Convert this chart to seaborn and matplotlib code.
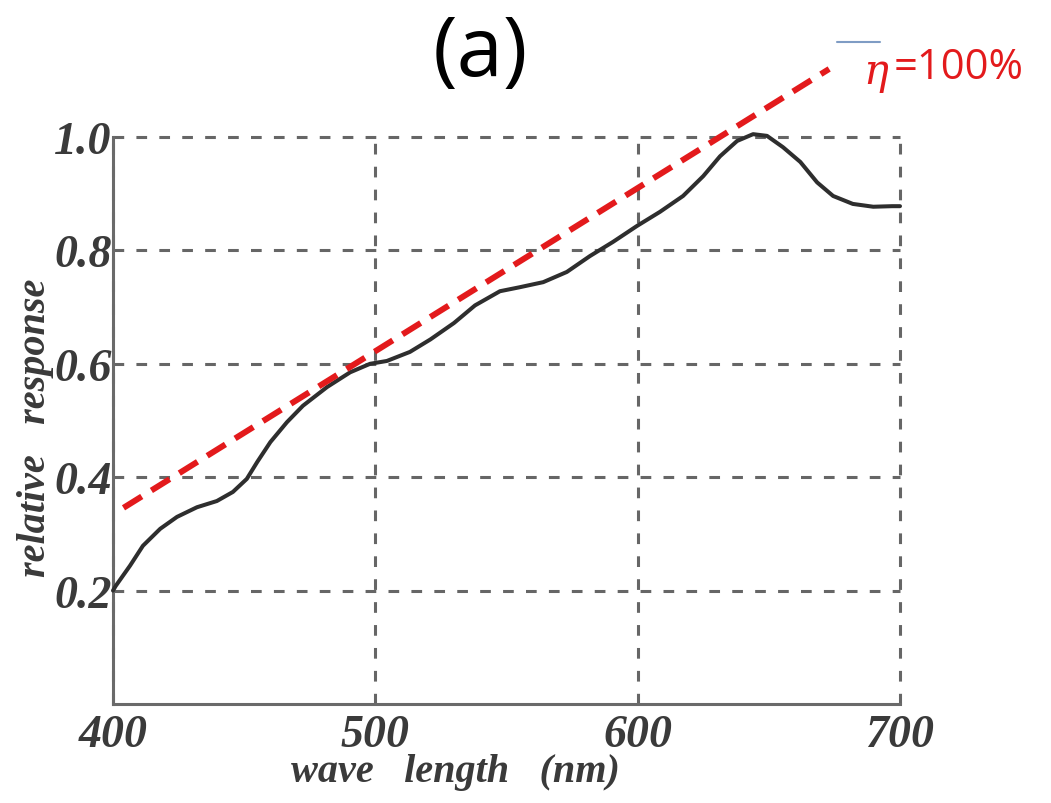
import numpy as np
import pandas as pd
import seaborn as sns
import matplotlib.pyplot as plt
from matplotlib.lines import Line2D

# ---- data ----
wavelength = [400, 401, 406.5, 411.4, 418, 424.4, 432, 439.6, 445.7, 451, 455, 460,
              466.3, 472.4, 481.6, 490.4, 498, 504.4, 513.2, 521, 530, 538, 547.5,
              555, 564, 573, 581.8, 590.6, 599.7, 608.5, 617.3, 625, 631.4, 637.9,
              644, 649.3, 655.4, 662, 668.4, 674.5, 682, 689.8, 697, 700]
response = [0.200, 0.208, 0.244, 0.279, 0.309, 0.330, 0.347, 0.358, 0.374, 0.397,
            0.427, 0.462, 0.497, 0.526, 0.559, 0.585, 0.600, 0.605, 0.621, 0.643,
            0.672, 0.703, 0.728, 0.735, 0.744, 0.762, 0.790, 0.815, 0.843, 0.868,
            0.896, 0.931, 0.966, 0.993, 1.005, 1.002, 0.982, 0.956, 0.920, 0.896,
            0.882, 0.877, 0.878, 0.878]

eta_wl = [404, 673]          # red reference line (eta = 100 %)
eta_resp = [0.346, 1.12]

x_ticks = [400, 500, 600, 700]
x_tick_labels = ["400", "500", "600", "700"]
y_ticks = [0.2, 0.4, 0.6, 0.8, 1.0]
y_tick_labels = ["0.2", "0.4", "0.6", "0.8", "1.0"]

title_text = "(a)"
x_label = "wave   length   (nm)"
y_label = "relative   response"
eta_symbol = "\u03b7"
eta_value = "=100%"

# ---- style ----
sns.set_theme(style="white")
W, H = 1051, 804
fig = plt.figure(figsize=(W / 100, H / 100), dpi=100)
ax = fig.add_axes([113 / W, 1 - 705 / H, (900 - 113) / W, (705 - 138) / H])

df = pd.DataFrame({"wavelength": wavelength, "response": response})
sns.lineplot(data=df, x="wavelength", y="response", ax=ax, color="#2e2e2e",
             lw=2.9, sort=False, zorder=4)
ax.lines[-1].set_clip_on(False)
ax.lines[-1].set_solid_joinstyle("round")

sns.lineplot(x=eta_wl, y=eta_resp, ax=ax, color="#e31a1c", lw=4.3, zorder=5)
red = ax.lines[-1]
red.set_dashes((3.6, 1.9))
red.set_clip_on(False)
red.set_dash_capstyle("butt")

ax.set_xlim(400, 700)
ax.set_ylim(0, 1.0)
ax.set_xticks(x_ticks)
ax.set_xticklabels(x_tick_labels)
ax.set_yticks(y_ticks)
ax.set_yticklabels(y_tick_labels)

ax.grid(True, linestyle=(0, (3.5, 4)), color="#666666", lw=2.2, zorder=1)
for g in ax.get_xgridlines() + ax.get_ygridlines():
    g.set_clip_on(False)

for s in ["top", "right"]:
    ax.spines[s].set_visible(False)
for s in ["left", "bottom"]:
    ax.spines[s].set_color("#6a6a6a")
    ax.spines[s].set_linewidth(2.2)
    ax.spines[s].set_zorder(3)

lab_family = ["Liberation Serif", "DejaVu Serif"]
ax.tick_params(axis="both", length=0)
ax.tick_params(axis="x", pad=7)
ax.tick_params(axis="y", pad=1)
for lab in ax.get_xticklabels() + ax.get_yticklabels():
    lab.set_fontfamily(lab_family)
    lab.set_fontweight("bold")
    lab.set_fontstyle("italic")
    lab.set_fontsize(33)
    lab.set_color("#3a3a3a")

ax.set_xlabel(x_label, fontfamily=lab_family, fontweight="bold",
              fontstyle="italic", fontsize=29, color="#3a3a3a")
ax.set_ylabel(y_label, fontfamily=lab_family, fontweight="bold",
              fontstyle="italic", fontsize=29, color="#3a3a3a")
ax.xaxis.set_label_coords((455 - 113) / 787, (705 - 754) / 567)
ax.yaxis.set_label_coords((54 - 113) / 787, (705 - 428) / 567)

# title "(a)"
fig.text(480 / W, 1 - 55 / H, title_text, ha="center", va="center",
         fontfamily="Open Sans", fontsize=60, color="black")

# eta annotation
fig.text(876 / W, 1 - 72 / H, eta_symbol, ha="center", va="center",
         fontfamily="DejaVu Serif", fontstyle="italic", fontsize=30, color="#e31a1c")
fig.text(894 / W, 1 - 68 / H, eta_value, ha="left", va="center",
         fontfamily="Open Sans", fontsize=30, color="#e31a1c")
fig.add_artist(Line2D([837 / W, 880 / W], [1 - 43 / H, 1 - 43 / H],
                      transform=fig.transFigure, color="#7f9cc4", lw=1.5))

fig.savefig("out.png", dpi=100)
